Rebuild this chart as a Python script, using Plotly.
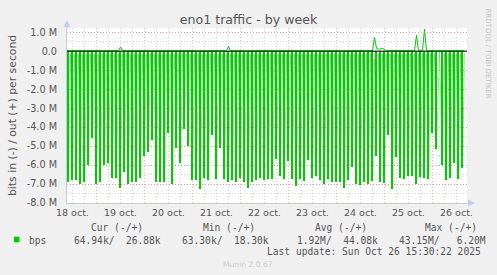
import pandas as pd
import plotly.graph_objects as go

# ---------------- data (values in M bits/s) ----------------
# depth of each periodic "in" transfer spike (plotted negative)
in_peak_M = [
    6.9, 6.8, 6.8, 7.0, 6.9, 6.0, 4.6, 7.0, 6.9, 6.0, 5.9, 6.7,
    6.7, 7.2, 6.35, 7.0, 6.9, 6.9, 6.7, 5.5, 5.3, 4.7, 6.9, 6.9,
    6.9, 4.3, 7.0, 5.1, 5.9, 4.1, 5.0, 6.8, 6.8, 7.25, 6.7, 6.8,
    4.4, 6.75, 5.1, 6.75, 6.9, 6.8, 6.9, 6.7, 6.9, 7.2, 6.9, 6.8,
    6.7, 6.8, 6.75, 6.75, 5.7, 6.6, 6.75, 5.8, 6.75, 7.1, 6.75, 6.85,
    5.75, 6.7, 6.6, 6.8, 7.0, 6.75, 6.9, 6.9, 6.9, 7.2, 6.8, 6.1,
    7.0, 7.05, 6.9, 7.0, 6.85, 5.5, 6.9, 6.95, 4.4, 7.25, 5.55, 6.7,
    6.75, 6.6, 6.6, 7.0, 6.65, 6.7, 6.75, 4.3, 5.15,
    6.0, 6.8, 6.7, 5.9, 6.75, 6.15,
]
# "in" level between two spikes (after spike i)
in_idle_M = [
    0.12, 0.12, 0.12, 0.12, 0.12, 0.12, 0.12, 0.12, 0.12, 0.12, 0.12, 0.12,
    0.12, 0.12, 0.12, 0.12, 0.12, 0.12, 0.12, 0.12, 0.12, 0.12, 0.12, 0.12,
    0.12, 0.12, 0.12, 0.12, 0.12, 0.12, 0.12, 0.12, 0.12, 0.12, 0.12, 0.12,
    0.12, 0.12, 0.12, 0.12, 0.12, 0.12, 0.12, 0.12, 0.12, 0.12, 0.12, 0.12,
    0.12, 0.12, 0.12, 0.12, 0.12, 0.12, 0.12, 0.12, 0.12, 0.12, 0.12, 0.12,
    0.12, 0.12, 0.12, 0.12, 0.12, 0.12, 0.12, 0.12, 0.12, 0.12, 0.12, 0.12,
    0.12, 0.12, 0.12, 0.12, 0.40, 0.12, 0.12, 0.12, 0.12, 0.12, 0.12, 0.12,
    0.12, 0.12, 0.12, 0.12, 0.12, 0.12, 0.12, 0.12, 0.05,
    0.12, 0.12, 0.12, 0.12, 0.12, 0.12,
]
# "out" traffic at each spike time and in between (plotted positive)
out_peak_M = [
    0.02, 0.02, 0.02, 0.02, 0.02, 0.02, 0.02, 0.02, 0.02, 0.02, 0.02, 0.02,
    0.02, 0.22, 0.02, 0.02, 0.02, 0.02, 0.02, 0.02, 0.02, 0.02, 0.02, 0.02,
    0.02, 0.02, 0.02, 0.02, 0.02, 0.02, 0.02, 0.02, 0.02, 0.02, 0.02, 0.02,
    0.02, 0.02, 0.02, 0.02, 0.25, 0.02, 0.02, 0.02, 0.02, 0.02, 0.02, 0.02,
    0.02, 0.02, 0.02, 0.02, 0.02, 0.02, 0.02, 0.02, 0.02, 0.02, 0.02, 0.02,
    0.02, 0.02, 0.02, 0.02, 0.02, 0.02, 0.02, 0.02, 0.02, 0.02, 0.02, 0.02,
    0.02, 0.02, 0.02, 0.02, 0.02, 0.15, 0.12, 0.10, 0.02, 0.02, 0.02, 0.02,
    0.02, 0.02, 0.02, 0.84, 0.02, 1.16, 0.02, 0.02, 0.02,
    0.02, 0.02, 0.02, 0.02, 0.02, 0.02,
]
out_idle_M = [
    0.02, 0.02, 0.02, 0.02, 0.02, 0.02, 0.02, 0.02, 0.02, 0.02, 0.02, 0.02,
    0.02, 0.02, 0.02, 0.02, 0.02, 0.02, 0.02, 0.02, 0.02, 0.02, 0.02, 0.02,
    0.02, 0.02, 0.02, 0.02, 0.02, 0.02, 0.02, 0.02, 0.02, 0.02, 0.02, 0.02,
    0.02, 0.02, 0.02, 0.02, 0.02, 0.02, 0.02, 0.02, 0.02, 0.02, 0.02, 0.02,
    0.02, 0.02, 0.02, 0.02, 0.02, 0.02, 0.02, 0.02, 0.02, 0.02, 0.02, 0.02,
    0.02, 0.02, 0.02, 0.02, 0.02, 0.02, 0.02, 0.02, 0.02, 0.02, 0.02, 0.02,
    0.02, 0.02, 0.02, 0.02, 0.72, 0.10, 0.14, 0.02, 0.02, 0.02, 0.02, 0.02,
    0.02, 0.02, 0.02, 0.02, 0.02, 0.02, 0.02, 0.02, 0.02,
    0.02, 0.02, 0.02, 0.02, 0.02, 0.02,
]
# spike times: every 2 h, shifted by one hour after the DST change on 26 oct.
peak_t = pd.date_range("2025-10-18 10:00", periods=93, freq="2h").append(
    pd.date_range("2025-10-26 05:00", periods=6, freq="2h"))

day_dates = pd.date_range("2025-10-18 12:00", periods=9, freq="D")
day_labels = ["18 oct.", "19 oct.", "20 oct.", "21 oct.", "22 oct.",
              "23 oct.", "24 oct.", "25 oct.", "26 oct."]

y_tickvals = [-8, -7, -6, -5, -4, -3, -2, -1, 0, 1]
y_ticktext = ["-8.0 M", "-7.0 M", "-6.0 M", "-5.0 M", "-4.0 M", "-3.0 M",
              "-2.0 M", "-1.0 M", "0.0", "1.0 M"]

legend_headers = ["Cur (-/+)", "Min (-/+)", "Avg (-/+)", "Max (-/+)"]
legend_values = ["64.94k/  26.88k", "63.30k/  18.30k", "1.92M/  44.08k", "43.15M/   6.20M"]
series_name = "bps"
last_update = "Last update: Sun Oct 26 15:30:22 2025"

# ---------------- build line coordinates ----------------
hour = pd.Timedelta(hours=1)
valley_t = [peak_t[i] + (peak_t[i + 1] - peak_t[i]) / 2 for i in range(len(peak_t) - 1)]
valley_t.append(peak_t[-1] + hour)

xs = [peak_t[0] - hour]
y_in = [-in_idle_M[0]]
y_out = [out_idle_M[0]]
for i in range(len(peak_t)):
    xs += [peak_t[i], valley_t[i]]
    y_in += [-in_peak_M[i], -in_idle_M[i]]
    y_out += [out_peak_M[i], out_idle_M[i]]

GREEN = "#00cc00"
W, H = 497, 275
L, R, T, B = 67, 467, 28, 203


def px(x):
    return (x - L) / (R - L)


def py(y):
    return (B - y) / (B - T)


fig = go.Figure()
fig.add_trace(go.Scatter(x=xs, y=y_in, mode="lines",
                         line=dict(color="rgba(0,204,0,0.42)", width=1), hoverinfo="skip"))
fig.add_trace(go.Bar(x=peak_t, y=[-v for v in in_peak_M], width=0.55 * 3600e3,
                     marker=dict(color=GREEN, line=dict(width=0)), hoverinfo="skip"))
fig.add_trace(go.Scatter(x=xs, y=y_out, mode="lines", line=dict(color=GREEN, width=1),
                         hoverinfo="skip"))

MAJ = "rgba(235,120,120,0.6)"
MIN = "#d4d4d4"
DOT = "1px,2px"
font_sans = "DejaVu Sans"
font_mono = "DejaVu Sans Mono"
TXT = "#555555"

fig.update_layout(
    width=W, height=H,
    margin=dict(l=L, r=W - R, t=T, b=H - B, pad=0),
    paper_bgcolor="#f0f0f0", plot_bgcolor="#ffffff",
    showlegend=False, bargap=0,
    title=dict(text="eno1 traffic - by week", x=0.5, xref="container", xanchor="center",
               y=1 - 19.5 / H, yref="container", yanchor="middle",
               font=dict(family=font_sans, size=12.6, color=TXT)),
    xaxis=dict(type="date", range=["2025-10-18 09:15", "2025-10-26 17:15"],
               tick0="2025-10-19", dtick=86400000, showticklabels=False, ticks="",
               showgrid=True, gridcolor=MAJ, griddash=DOT, gridwidth=1,
               minor=dict(tick0="2025-10-19", dtick=21600000, showgrid=True,
                          gridcolor=MIN, griddash=DOT, gridwidth=1),
               showline=True, linecolor="#c4c8f0", linewidth=1, zeroline=False),
    yaxis=dict(range=[-8.0, 1.22], tickvals=y_tickvals, ticktext=y_ticktext, ticks="",
               ticklabelstandoff=7, tickfont=dict(family=font_sans, size=9.7, color=TXT),
               showgrid=True, gridcolor=MAJ, griddash=DOT, gridwidth=1,
               minor=dict(dtick=0.5, tick0=0, showgrid=True, gridcolor=MIN,
                          griddash=DOT, gridwidth=1),
               showline=True, linecolor="#c4c8f0", linewidth=1, zeroline=False),
)

shapes = [
    # zero line
    dict(type="line", xref="paper", yref="y", x0=0, x1=1, y0=0, y1=0,
         line=dict(color="#000000", width=1), layer="above"),
    # y axis extension + arrow
    dict(type="line", xref="paper", yref="paper", x0=0, x1=0, y0=1, y1=py(22),
         line=dict(color="#c4c8f0", width=1)),
    dict(type="path", xref="paper", yref="paper",
         path=f"M {px(63.5)},{py(27)} L {px(70.5)},{py(27)} L {px(67)},{py(20)} Z",
         fillcolor="#c4ccf4", line=dict(width=0)),
    dict(type="line", xref="paper", yref="paper", x0=1, x1=px(470), y0=0, y1=0,
         line=dict(color="#c4c8f0", width=1)),
    dict(type="path", xref="paper", yref="paper",
         path=f"M {px(468)},{py(199.5)} L {px(468)},{py(206.5)} L {px(475)},{py(203)} Z",
         fillcolor="#c4ccf4", line=dict(width=0)),
    # legend colour box
    dict(type="rect", xref="paper", yref="paper", x0=px(14), x1=px(19.5),
         y0=py(242.3), y1=py(236.7), fillcolor=GREEN, line=dict(width=0)),
]
fig.update_layout(shapes=shapes)

ann = []
for d, lab in zip(day_dates, day_labels):
    ann.append(dict(x=d, xref="x", y=py(212.8), yref="paper", text=lab, showarrow=False,
                    xanchor="center", yanchor="middle",
                    font=dict(family=font_sans, size=9.5, color=TXT)))

ann.append(dict(x=px(12), y=py(116), xref="paper", yref="paper",
                text="bits in (-) / out (+) per second", textangle=-90, showarrow=False,
                xanchor="center", yanchor="middle",
                font=dict(family=font_sans, size=10.8, color=TXT)))
ann.append(dict(x=px(487.5), y=py(53), xref="paper", yref="paper",
                text="RRDTOOL / TOBI OETIKER", textangle=90, showarrow=False,
                xanchor="center", yanchor="middle",
                font=dict(family=font_sans, size=7, color="#c4c4c4")))


def mono(s):
    return s.replace(" ", "\u00a0")


head_x = [89.3, 201, 312.7, 422.7]
val_x = [72.3, 180, 295, 396.7]
for hx, h in zip(head_x, legend_headers):
    ann.append(dict(x=px(hx), y=py(227.7), xref="paper", yref="paper", text=mono(h),
                    showarrow=False, xanchor="left", yanchor="middle",
                    font=dict(family=font_mono, size=9.6, color=TXT)))
for vx, v in zip(val_x, legend_values):
    ann.append(dict(x=px(vx), y=py(240), xref="paper", yref="paper", text=mono(v),
                    showarrow=False, xanchor="left", yanchor="middle",
                    font=dict(family=font_mono, size=9.6, color=TXT)))
ann.append(dict(x=px(26.7), y=py(240), xref="paper", yref="paper", text=series_name,
                showarrow=False, xanchor="left", yanchor="middle",
                font=dict(family=font_mono, size=9.6, color=TXT)))
ann.append(dict(x=px(482.5), y=py(251.8), xref="paper", yref="paper", text=mono(last_update),
                showarrow=False, xanchor="right", yanchor="middle",
                font=dict(family=font_mono, size=9.6, color=TXT)))
ann.append(dict(x=px(247.5), y=py(264), xref="paper", yref="paper", text="Munin 2.0.67",
                showarrow=False, xanchor="center", yanchor="middle",
                font=dict(family=font_sans, size=7.6, color="#cccccc")))
fig.update_layout(annotations=ann)

fig.write_html("out.html")
